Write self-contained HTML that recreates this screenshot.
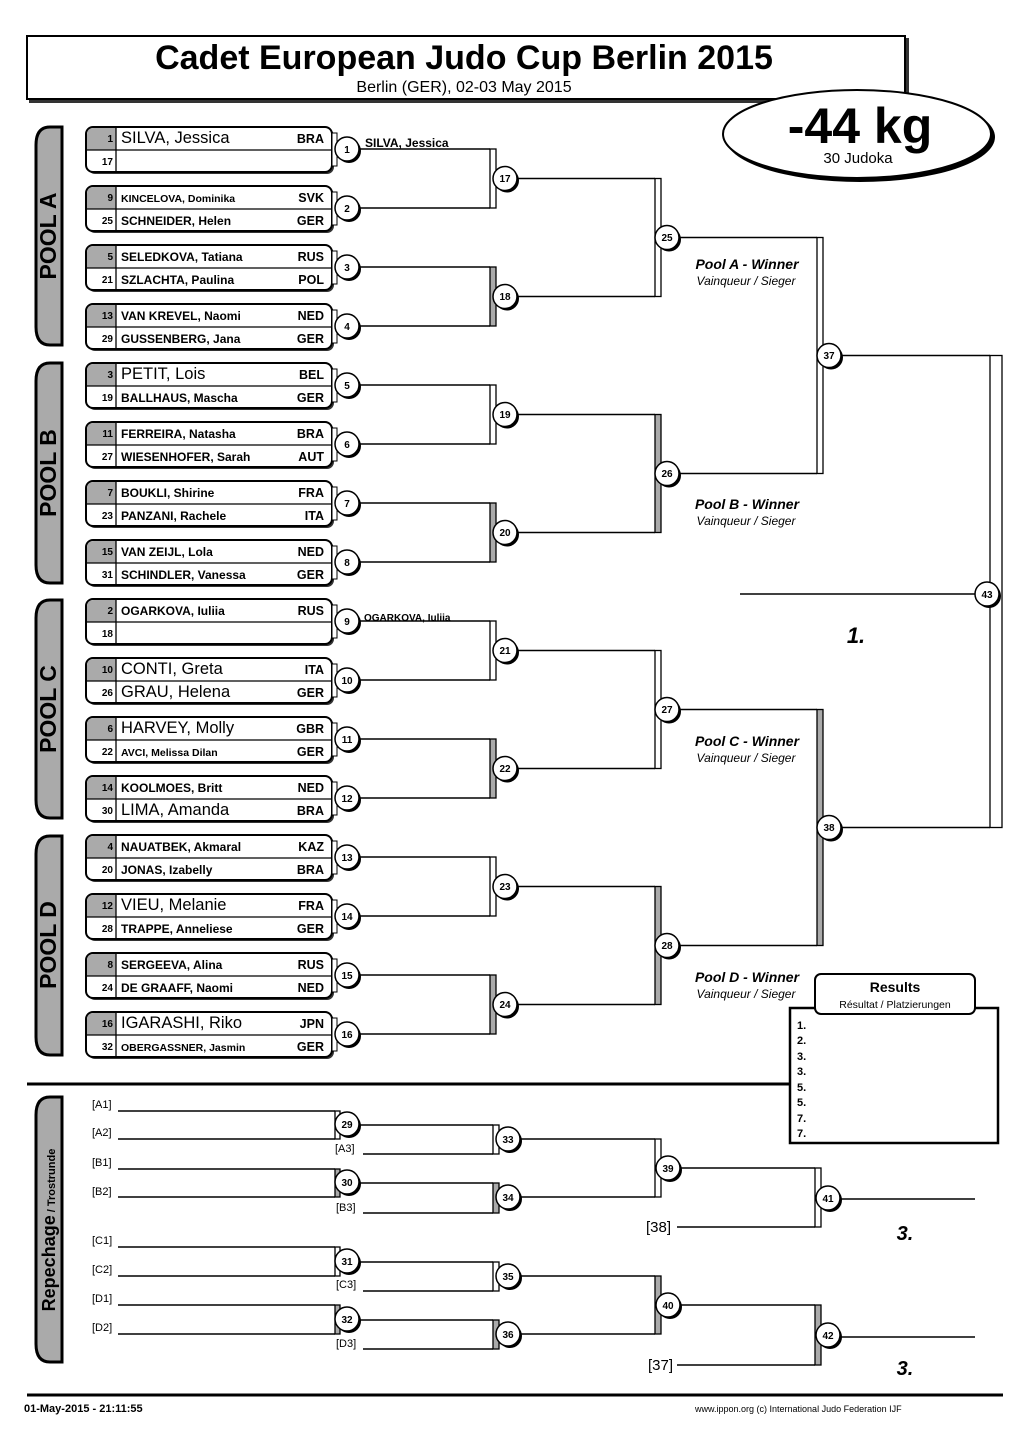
<!DOCTYPE html>
<html><head><meta charset="utf-8"><style>
html,body{margin:0;padding:0;background:#fff}
svg{display:block;font-family:"Liberation Sans",Arial,sans-serif}
.n{font-size:12px;font-weight:bold}
.L{font-size:16.5px}
.S{font-size:10.5px;font-weight:bold}
.sd{font-size:10px;font-weight:bold;text-anchor:end}
.co{font-size:12.5px;font-weight:bold;text-anchor:end}
.cn{font-size:10px;font-weight:bold;text-anchor:middle}
.ln{stroke:#000;stroke-width:1.6;fill:none}
.bw{fill:#fff;stroke:#000;stroke-width:1.3}
.bg{fill:#aaa;stroke:#000;stroke-width:1.3}
.w1{font-size:14px;font-weight:bold;font-style:italic;text-anchor:middle}
.w2{font-size:12px;font-style:italic;text-anchor:middle}
.rp{font-size:11px}
</style></head><body>
<svg width="1026" height="1450" viewBox="0 0 1026 1450" xmlns="http://www.w3.org/2000/svg">
<defs>
<g id="box">
<rect x="88" y="2" width="246" height="45" rx="7" fill="#333"/>
<rect x="86" y="0" width="246" height="45" rx="7" fill="#fff" stroke="#000" stroke-width="2"/>
<path d="M87 8 Q87 1 94 1 H116 V23 H87 Z" fill="#aaa"/>
<line x1="116" y1="1" x2="116" y2="44" stroke="#000" stroke-width="1.3"/>
<line x1="87" y1="23" x2="331" y2="23" stroke="#000" stroke-width="1.3"/>
<rect x="332" y="6" width="5" height="33" fill="#fff" stroke="#000" stroke-width="1"/>
</g>
<g id="c"><circle cx="2" cy="2" r="12" fill="#000"/><circle r="12" fill="#fff" stroke="#000" stroke-width="1.5"/></g>
</defs>

<!-- title -->
<rect x="29" y="38" width="880" height="65" fill="#333"/>
<rect x="27" y="36" width="878" height="63" fill="#fff" stroke="#000" stroke-width="2"/>
<text x="464" y="69" font-size="34" font-weight="bold" text-anchor="middle">Cadet European Judo Cup Berlin 2015</text>
<text x="464" y="92" font-size="16" text-anchor="middle">Berlin (GER), 02-03 May 2015</text>
<ellipse cx="860" cy="137" rx="135" ry="45" fill="#000"/>
<ellipse cx="857" cy="134" rx="134" ry="44" fill="#fff" stroke="#000" stroke-width="2"/>
<text x="860" y="143" font-size="50" font-weight="bold" text-anchor="middle">-44 kg</text>
<text x="858" y="163" font-size="15" text-anchor="middle">30 Judoka</text>

<!-- pool tabs -->
<g fill="#aaa" stroke="#000" stroke-width="3">
<path d="M62 127 H50 Q36 127 36 145 V327 Q36 345 50 345 H62 Z"/>
<path d="M62 363 H50 Q36 363 36 381 V565 Q36 583 50 583 H62 Z"/>
<path d="M62 600 H50 Q36 600 36 618 V800 Q36 818 50 818 H62 Z"/>
<path d="M62 836 H50 Q36 836 36 854 V1037 Q36 1055 50 1055 H62 Z"/>
<path d="M62 1097 H50 Q36 1097 36 1115 V1344 Q36 1362 50 1362 H62 Z"/>
</g>
<g font-size="23" font-weight="bold" text-anchor="middle">
<text transform="translate(56,236) rotate(-90)">POOL A</text>
<text transform="translate(56,473) rotate(-90)">POOL B</text>
<text transform="translate(56,709) rotate(-90)">POOL C</text>
<text transform="translate(56,945) rotate(-90)">POOL D</text>
</g>
<text transform="translate(55,1230) rotate(-90)" text-anchor="middle"><tspan font-size="18" font-weight="bold">Repechage</tspan><tspan font-size="11" font-weight="bold"> / Trostrunde</tspan></text>

<!-- boxes -->
<use href="#box" y="127"/><use href="#box" y="186"/><use href="#box" y="245"/><use href="#box" y="304"/>
<use href="#box" y="363"/><use href="#box" y="422"/><use href="#box" y="481"/><use href="#box" y="540"/>
<use href="#box" y="599"/><use href="#box" y="658"/><use href="#box" y="717"/><use href="#box" y="776"/>
<use href="#box" y="835"/><use href="#box" y="894"/><use href="#box" y="953"/><use href="#box" y="1012"/>

<!-- entries -->
<g>
<text class="sd" x="113" y="142">1</text><text class="L" x="121" y="143">SILVA, Jessica</text><text class="co" x="324" y="143">BRA</text>
<text class="sd" x="113" y="165">17</text>
<text class="sd" x="113" y="201">9</text><text class="S" x="121" y="202">KINCELOVA, Dominika</text><text class="co" x="324" y="202">SVK</text>
<text class="sd" x="113" y="224">25</text><text class="n" x="121" y="225">SCHNEIDER, Helen</text><text class="co" x="324" y="225">GER</text>
<text class="sd" x="113" y="260">5</text><text class="n" x="121" y="261">SELEDKOVA, Tatiana</text><text class="co" x="324" y="261">RUS</text>
<text class="sd" x="113" y="283">21</text><text class="n" x="121" y="284">SZLACHTA, Paulina</text><text class="co" x="324" y="284">POL</text>
<text class="sd" x="113" y="319">13</text><text class="n" x="121" y="320">VAN KREVEL, Naomi</text><text class="co" x="324" y="320">NED</text>
<text class="sd" x="113" y="342">29</text><text class="n" x="121" y="343">GUSSENBERG, Jana</text><text class="co" x="324" y="343">GER</text>
<text class="sd" x="113" y="378">3</text><text class="L" x="121" y="379">PETIT, Lois</text><text class="co" x="324" y="379">BEL</text>
<text class="sd" x="113" y="401">19</text><text class="n" x="121" y="402">BALLHAUS, Mascha</text><text class="co" x="324" y="402">GER</text>
<text class="sd" x="113" y="437">11</text><text class="n" x="121" y="438">FERREIRA, Natasha</text><text class="co" x="324" y="438">BRA</text>
<text class="sd" x="113" y="460">27</text><text class="n" x="121" y="461">WIESENHOFER, Sarah</text><text class="co" x="324" y="461">AUT</text>
<text class="sd" x="113" y="496">7</text><text class="n" x="121" y="497">BOUKLI, Shirine</text><text class="co" x="324" y="497">FRA</text>
<text class="sd" x="113" y="519">23</text><text class="n" x="121" y="520">PANZANI, Rachele</text><text class="co" x="324" y="520">ITA</text>
<text class="sd" x="113" y="555">15</text><text class="n" x="121" y="556">VAN ZEIJL, Lola</text><text class="co" x="324" y="556">NED</text>
<text class="sd" x="113" y="578">31</text><text class="n" x="121" y="579">SCHINDLER, Vanessa</text><text class="co" x="324" y="579">GER</text>
<text class="sd" x="113" y="614">2</text><text class="n" x="121" y="615">OGARKOVA, Iuliia</text><text class="co" x="324" y="615">RUS</text>
<text class="sd" x="113" y="637">18</text>
<text class="sd" x="113" y="673">10</text><text class="L" x="121" y="674">CONTI, Greta</text><text class="co" x="324" y="674">ITA</text>
<text class="sd" x="113" y="696">26</text><text class="L" x="121" y="697">GRAU, Helena</text><text class="co" x="324" y="697">GER</text>
<text class="sd" x="113" y="732">6</text><text class="L" x="121" y="733">HARVEY, Molly</text><text class="co" x="324" y="733">GBR</text>
<text class="sd" x="113" y="755">22</text><text class="S" x="121" y="756">AVCI, Melissa Dilan</text><text class="co" x="324" y="756">GER</text>
<text class="sd" x="113" y="791">14</text><text class="n" x="121" y="792">KOOLMOES, Britt</text><text class="co" x="324" y="792">NED</text>
<text class="sd" x="113" y="814">30</text><text class="L" x="121" y="815">LIMA, Amanda</text><text class="co" x="324" y="815">BRA</text>
<text class="sd" x="113" y="850">4</text><text class="n" x="121" y="851">NAUATBEK, Akmaral</text><text class="co" x="324" y="851">KAZ</text>
<text class="sd" x="113" y="873">20</text><text class="n" x="121" y="874">JONAS, Izabelly</text><text class="co" x="324" y="874">BRA</text>
<text class="sd" x="113" y="909">12</text><text class="L" x="121" y="910">VIEU, Melanie</text><text class="co" x="324" y="910">FRA</text>
<text class="sd" x="113" y="932">28</text><text class="n" x="121" y="933">TRAPPE, Anneliese</text><text class="co" x="324" y="933">GER</text>
<text class="sd" x="113" y="968">8</text><text class="n" x="121" y="969">SERGEEVA, Alina</text><text class="co" x="324" y="969">RUS</text>
<text class="sd" x="113" y="991">24</text><text class="n" x="121" y="992">DE GRAAFF, Naomi</text><text class="co" x="324" y="992">NED</text>
<text class="sd" x="113" y="1027">16</text><text class="L" x="121" y="1028">IGARASHI, Riko</text><text class="co" x="324" y="1028">JPN</text>
<text class="sd" x="113" y="1050">32</text><text class="S" x="121" y="1051">OBERGASSNER, Jasmin</text><text class="co" x="324" y="1051">GER</text>
</g>

<!-- brackets -->
<g class="ln">
<path d="M359 149H490M359 208H490M359 267H490M359 326H490M359 385H490M359 444H490M359 503H490M359 562H490M359 621H490M359 680H490M359 739H490M359 798H490M359 857H490M359 916H490M359 975H490M359 1034H490"/>
<path d="M517 178.5H655M517 296.5H655M517 414.5H655M517 532.5H655M517 650.5H655M517 768.5H655M517 886.5H655M517 1004.5H655"/>
<path d="M679 237.5H817M679 473.5H817M679 709.5H817M679 945.5H817"/>
<path d="M841 355.5H990M841 827.5H990M740 594H975"/>
</g>
<rect class="bw" x="490" y="149" width="6" height="59"/><rect class="bg" x="490" y="267" width="6" height="59"/>
<rect class="bw" x="490" y="385" width="6" height="59"/><rect class="bg" x="490" y="503" width="6" height="59"/>
<rect class="bw" x="490" y="621" width="6" height="59"/><rect class="bg" x="490" y="739" width="6" height="59"/>
<rect class="bw" x="490" y="857" width="6" height="59"/><rect class="bg" x="490" y="975" width="6" height="59"/>
<rect class="bw" x="655" y="178.5" width="6" height="118"/><rect class="bg" x="655" y="414.5" width="6" height="118"/>
<rect class="bw" x="655" y="650.5" width="6" height="118"/><rect class="bg" x="655" y="886.5" width="6" height="118"/>
<rect class="bw" x="817" y="237.5" width="6" height="236"/><rect class="bg" x="817" y="709.5" width="6" height="236"/>
<rect class="bw" x="990" y="355.5" width="12" height="472"/>

<text x="365" y="147" font-size="12" font-weight="bold">SILVA, Jessica</text>
<text x="364" y="621" font-size="10" font-weight="bold">OGARKOVA, Iuliia</text>

<!-- circles -->
<g>
<use href="#c" x="347" y="149"/><use href="#c" x="347" y="208"/><use href="#c" x="347" y="267"/><use href="#c" x="347" y="326"/>
<use href="#c" x="347" y="385"/><use href="#c" x="347" y="444"/><use href="#c" x="347" y="503"/><use href="#c" x="347" y="562"/>
<use href="#c" x="347" y="621"/><use href="#c" x="347" y="680"/><use href="#c" x="347" y="739"/><use href="#c" x="347" y="798"/>
<use href="#c" x="347" y="857"/><use href="#c" x="347" y="916"/><use href="#c" x="347" y="975"/><use href="#c" x="347" y="1034"/>
<use href="#c" x="505" y="178.5"/><use href="#c" x="505" y="296.5"/><use href="#c" x="505" y="414.5"/><use href="#c" x="505" y="532.5"/>
<use href="#c" x="505" y="650.5"/><use href="#c" x="505" y="768.5"/><use href="#c" x="505" y="886.5"/><use href="#c" x="505" y="1004.5"/>
<use href="#c" x="667" y="237.5"/><use href="#c" x="667" y="473.5"/><use href="#c" x="667" y="709.5"/><use href="#c" x="667" y="945.5"/>
<use href="#c" x="829" y="355.5"/><use href="#c" x="829" y="827.5"/><use href="#c" x="987" y="594"/>
</g>
<g class="cn">
<text x="347" y="153">1</text><text x="347" y="212">2</text><text x="347" y="271">3</text><text x="347" y="330">4</text>
<text x="347" y="389">5</text><text x="347" y="448">6</text><text x="347" y="507">7</text><text x="347" y="566">8</text>
<text x="347" y="625">9</text><text x="347" y="684">10</text><text x="347" y="743">11</text><text x="347" y="802">12</text>
<text x="347" y="861">13</text><text x="347" y="920">14</text><text x="347" y="979">15</text><text x="347" y="1038">16</text>
<text x="505" y="182">17</text><text x="505" y="300">18</text><text x="505" y="418">19</text><text x="505" y="536">20</text>
<text x="505" y="654">21</text><text x="505" y="772">22</text><text x="505" y="890">23</text><text x="505" y="1008">24</text>
<text x="667" y="241">25</text><text x="667" y="477">26</text><text x="667" y="713">27</text><text x="667" y="949">28</text>
<text x="829" y="359">37</text><text x="829" y="831">38</text><text x="987" y="598">43</text>
</g>

<!-- winners -->
<text class="w1" x="747" y="269">Pool A - Winner</text><text class="w2" x="746" y="285">Vainqueur / Sieger</text>
<text class="w1" x="747" y="509">Pool B - Winner</text><text class="w2" x="746" y="525">Vainqueur / Sieger</text>
<text class="w1" x="747" y="746">Pool C - Winner</text><text class="w2" x="746" y="762">Vainqueur / Sieger</text>
<text class="w1" x="747" y="982">Pool D - Winner</text><text class="w2" x="746" y="998">Vainqueur / Sieger</text>
<text x="856" y="643" font-size="22" font-weight="bold" font-style="italic" text-anchor="middle">1.</text>

<!-- results -->
<rect x="790" y="1008" width="208" height="135" fill="#fff" stroke="#000" stroke-width="2.5"/>
<rect x="815" y="974" width="160" height="40" rx="6" fill="#fff" stroke="#000" stroke-width="2"/>
<text x="895" y="992" font-size="14" font-weight="bold" text-anchor="middle">Results</text>
<text x="895" y="1008" font-size="10.5" text-anchor="middle">Résultat / Platzierungen</text>
<g font-size="11" font-weight="bold">
<text x="797" y="1029">1.</text><text x="797" y="1044">2.</text><text x="797" y="1060">3.</text><text x="797" y="1075">3.</text>
<text x="797" y="1091">5.</text><text x="797" y="1106">5.</text><text x="797" y="1122">7.</text><text x="797" y="1137">7.</text>
</g>
<line x1="27" y1="1084" x2="790" y2="1084" stroke="#000" stroke-width="3"/>

<!-- repechage -->
<g class="ln">
<path d="M118 1111H335M118 1139H335M118 1169H335M118 1197H335M118 1247H335M118 1276H335M118 1305H335M118 1334H335"/>
<path d="M359 1125H493M363 1154H493M359 1183H493M363 1213H493M359 1262H493M363 1291H493M359 1320H493M363 1349H493"/>
<path d="M520 1139H655M520 1197H655M520 1276H655M520 1334H655"/>
<path d="M680 1168H815M677 1227H815M680 1305H815M677 1365H815"/>
<path d="M840 1199H975M840 1337H975"/>
</g>
<rect class="bw" x="335" y="1111" width="5" height="28"/><rect class="bg" x="335" y="1169" width="5" height="28"/>
<rect class="bw" x="335" y="1247" width="5" height="29"/><rect class="bg" x="335" y="1305" width="5" height="29"/>
<rect class="bw" x="493" y="1125" width="6" height="29"/><rect class="bg" x="493" y="1183" width="6" height="30"/>
<rect class="bw" x="493" y="1262" width="6" height="29"/><rect class="bg" x="493" y="1320" width="6" height="29"/>
<rect class="bw" x="655" y="1139" width="6" height="58"/><rect class="bg" x="655" y="1276" width="6" height="58"/>
<rect class="bw" x="815" y="1168" width="6" height="59"/><rect class="bg" x="815" y="1305" width="6" height="60"/>
<g class="rp">
<text x="92" y="1108">[A1]</text><text x="92" y="1136">[A2]</text><text x="92" y="1166">[B1]</text><text x="92" y="1195">[B2]</text>
<text x="92" y="1244">[C1]</text><text x="92" y="1273">[C2]</text><text x="92" y="1302">[D1]</text><text x="92" y="1331">[D2]</text>
<text x="335" y="1152">[A3]</text><text x="336" y="1211">[B3]</text><text x="336" y="1288">[C3]</text><text x="336" y="1347">[D3]</text>
</g>
<text x="646" y="1232" font-size="15">[38]</text><text x="648" y="1370" font-size="15">[37]</text>
<g>
<use href="#c" x="347" y="1124"/><use href="#c" x="347" y="1182"/><use href="#c" x="347" y="1261"/><use href="#c" x="347" y="1319"/>
<use href="#c" x="508" y="1139"/><use href="#c" x="508" y="1197"/><use href="#c" x="508" y="1276"/><use href="#c" x="508" y="1334"/>
<use href="#c" x="668" y="1168"/><use href="#c" x="668" y="1305"/><use href="#c" x="828" y="1198"/><use href="#c" x="828" y="1335"/>
</g>
<g class="cn">
<text x="347" y="1128">29</text><text x="347" y="1186">30</text><text x="347" y="1265">31</text><text x="347" y="1323">32</text>
<text x="508" y="1143">33</text><text x="508" y="1201">34</text><text x="508" y="1280">35</text><text x="508" y="1338">36</text>
<text x="668" y="1172">39</text><text x="668" y="1309">40</text><text x="828" y="1202">41</text><text x="828" y="1339">42</text>
</g>
<text x="905" y="1240" font-size="20" font-weight="bold" font-style="italic" text-anchor="middle">3.</text>
<text x="905" y="1375" font-size="20" font-weight="bold" font-style="italic" text-anchor="middle">3.</text>

<!-- footer -->
<line x1="27" y1="1395" x2="1003" y2="1395" stroke="#000" stroke-width="3"/>
<text x="24" y="1412" font-size="11" font-weight="bold">01-May-2015 - 21:11:55</text>
<text x="695" y="1412" font-size="9">www.ippon.org  (c) International Judo Federation IJF</text>
</svg>
</body></html>
